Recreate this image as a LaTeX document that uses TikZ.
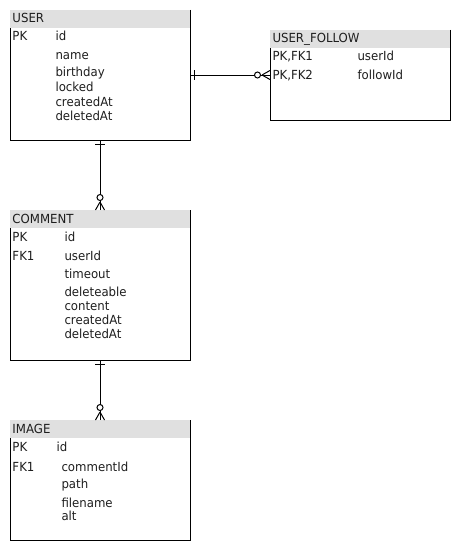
\documentclass[tikz,border=0pt]{standalone}
\usepackage{fontspec}
\setmainfont{DejaVu Sans}[FakeStretch=0.94]
\usetikzlibrary{calc}
\definecolor{hdrgray}{RGB}{224,224,224}
\definecolor{txtcol}{RGB}{30,30,30}
\begin{document}
\begin{tikzpicture}[x=1pt,y=-1pt,line width=1pt,
  hdr/.style={fill=hdrgray,draw=none,inner sep=0pt,outer sep=0pt,minimum width=180pt,minimum height=18pt,anchor=north west},
  bodybox/.style={draw=none,inner sep=0pt,outer sep=0pt,minimum width=180pt,anchor=north west},
  txt/.style={anchor=base west,inner sep=0pt,text=txtcol,font=\fontsize{12.5}{14}\selectfont},
  tick/.style={line width=1pt},
  ring/.style={fill=white,line width=1pt}]
\useasboundingbox (0,0) rectangle (461,551);

% ---------- USER ----------
\node[hdr] (userH) at (10,10) {};
\node[bodybox,minimum height=112pt] (userB) at (10,28) {};
\draw (userH.north east) -- (userB.south east) -- (userB.south west) -- (userB.north west);
\node[txt] (userT) at (12,23) {USER};
\node[txt] (userPK) at (12,40.5) {PK};
\node[txt] (userId) at (55,40.5) {id};
\node[txt] (userName) at (55,59.5) {name};
\node[txt] (userBirth) at (55,77) {birthday};
\node[txt] (userLocked) at (55,91.5) {locked};
\node[txt] (userCreated) at (55,106) {createdAt};
\node[txt] (userDeleted) at (55,120.5) {deletedAt};

% ---------- USER_FOLLOW ----------
\node[hdr] (ufH) at (270,30) {};
\node[bodybox,minimum height=72pt] (ufB) at (270,48) {};
\draw (ufH.north east) -- (ufB.south east) -- (ufB.south west) -- (ufB.north west);
\node[txt] (ufT) at (272,42.5) {USER\_FOLLOW};
\node[txt] (ufK1) at (272,60.5) {PK,FK1};
\node[txt] (ufF1) at (357,60.5) {userId};
\node[txt] (ufK2) at (272,79.5) {PK,FK2};
\node[txt] (ufF2) at (357,79.5) {followId};

% ---------- COMMENT ----------
\node[hdr] (comH) at (10,210) {};
\node[bodybox,minimum height=132pt] (comB) at (10,228) {};
\draw (comH.north east) -- (comB.south east) -- (comB.south west) -- (comB.north west);
\node[txt] (comT) at (12,223) {COMMENT};
\node[txt] (comPK) at (12,241) {PK};
\node[txt] (comId) at (64,241) {id};
\node[txt] (comFK) at (12,260) {FK1};
\node[txt] (comUser) at (64,260) {userId};
\node[txt] (comTimeout) at (64,278.5) {timeout};
\node[txt] (comDel) at (64,296.5) {deleteable};
\node[txt] (comContent) at (64,310.5) {content};
\node[txt] (comCreated) at (64,324.5) {createdAt};
\node[txt] (comDeleted) at (64,338.5) {deletedAt};

% ---------- IMAGE ----------
\node[hdr] (imgH) at (10,420) {};
\node[bodybox,minimum height=102pt] (imgB) at (10,438) {};
\draw (imgH.north east) -- (imgB.south east) -- (imgB.south west) -- (imgB.north west);
\node[txt] (imgT) at (12,433) {IMAGE};
\node[txt] (imgPK) at (12,451.5) {PK};
\node[txt] (imgId) at (56,451.5) {id};
\node[txt] (imgFK) at (12,471) {FK1};
\node[txt] (imgCom) at (61,471) {commentId};
\node[txt] (imgPath) at (61,488.5) {path};
\node[txt] (imgFile) at (61,507) {filename};
\node[txt] (imgAlt) at (61,520) {alt};

% ---------- connectors ----------
% USER -> USER_FOLLOW
\coordinate (ufL) at ($(userB.north east)+(0,47)$);
\coordinate (ufR) at ($(ufH.south west)+(0,27)$);
\draw (ufL) -- (ufR);
\draw[tick] ($(ufL)+(4,-5)$) -- ($(ufL)+(4,5)$);
\draw ($(ufR)+(-8,0)$) -- ($(ufR)+(0,-4.5)$) ($(ufR)+(-8,0)$) -- ($(ufR)+(0,4.5)$);
\draw[ring] ($(ufR)+(-12.5,0)$) circle (3pt);

% USER -> COMMENT
\draw (userB.south) -- (comH.north);
\draw[tick] ($(userB.south)+(-5,4)$) -- ($(userB.south)+(5,4)$);
\draw ($(comH.north)+(0,-8)$) -- ($(comH.north)+(-4.5,0)$) ($(comH.north)+(0,-8)$) -- ($(comH.north)+(4.5,0)$);
\draw[ring] ($(comH.north)+(0,-12.5)$) circle (3pt);

% COMMENT -> IMAGE
\draw (comB.south) -- (imgH.north);
\draw[tick] ($(comB.south)+(-5,4)$) -- ($(comB.south)+(5,4)$);
\draw ($(imgH.north)+(0,-8)$) -- ($(imgH.north)+(-4.5,0)$) ($(imgH.north)+(0,-8)$) -- ($(imgH.north)+(4.5,0)$);
\draw[ring] ($(imgH.north)+(0,-12.5)$) circle (3pt);
\end{tikzpicture}
\end{document}
